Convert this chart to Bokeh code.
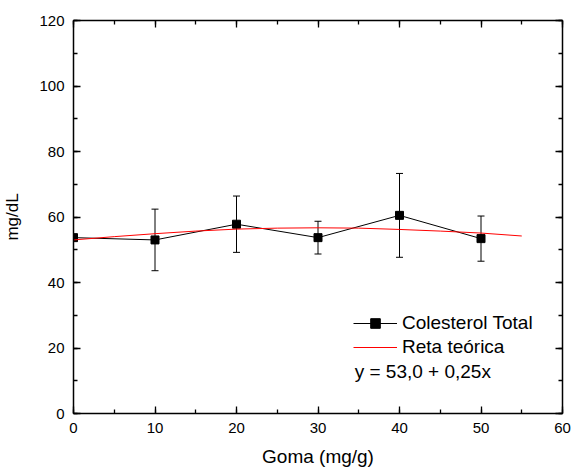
from bokeh.plotting import figure
from bokeh.models import (LinearAxis, SingleIntervalTicker, Whisker, TeeHead,
                          ColumnDataSource, Legend, LegendItem, Label, Range1d)
from bokeh.embed import file_html
from bokeh.resources import INLINE

# data
goma = [0, 10, 20, 30, 40, 50]
colesterol = [53.7, 53.0, 57.8, 53.7, 60.5, 53.4]
erro = [0.0, 9.4, 8.6, 5.0, 12.8, 6.9]

reta_x = [0, 5, 10, 15, 20, 25, 30, 35, 40, 45, 50, 55]
reta_y = [53.0, 54.0, 54.9, 55.7, 56.3, 56.6, 56.7, 56.6, 56.2, 55.7, 55.1, 54.2]

x_label = "Goma (mg/g)"
y_label = "mg/dL"
eq_text = "y = 53,0 + 0,25x"

FONT = "Liberation Sans"

src = ColumnDataSource(dict(
    x=goma, y=colesterol,
    upper=[v + e for v, e in zip(colesterol, erro)],
    lower=[v - e for v, e in zip(colesterol, erro)],
))

p = figure(frame_width=489, frame_height=393, output_backend="svg",
           toolbar_location=None, x_range=Range1d(0, 60), y_range=Range1d(0, 120),
           x_axis_label=x_label, y_axis_label=y_label,
           min_border_left=73, min_border_right=9, min_border_top=20, min_border_bottom=57)
p.xgrid.visible = False
p.ygrid.visible = False
p.outline_line_color = None
p.background_fill_color = "white"
p.border_fill_color = "white"

p.xaxis.ticker = SingleIntervalTicker(interval=10, num_minor_ticks=2)
p.yaxis.ticker = SingleIntervalTicker(interval=20, num_minor_ticks=2)

def style_axis(ax, labels=True):
    ax.axis_line_width = 1.5
    ax.axis_line_color = "black"
    ax.major_tick_in = 7
    ax.major_tick_out = 0
    ax.minor_tick_in = 4
    ax.minor_tick_out = 0
    ax.major_tick_line_width = 1.3
    ax.minor_tick_line_width = 1.3
    ax.major_tick_line_color = "black"
    ax.minor_tick_line_color = "black"
    if labels:
        ax.major_label_text_font = FONT
        ax.major_label_text_font_size = "15px"
        ax.major_label_text_color = "black"
        ax.axis_label_text_font = FONT
        ax.axis_label_text_font_style = "normal"
        ax.axis_label_text_color = "black"
    else:
        ax.major_label_text_font_size = "1px"
        ax.major_label_text_color = None
        ax.major_label_text_alpha = 0
        ax.major_label_standoff = 0

for ax in p.xaxis:
    style_axis(ax)
    ax.major_label_standoff = 9
    ax.axis_label_standoff = 10
    ax.axis_label_text_font_size = "19px"
for ax in p.yaxis:
    style_axis(ax)
    ax.major_label_standoff = 9
    ax.axis_label_standoff = 14
    ax.axis_label_text_font_size = "17px"

top = LinearAxis(ticker=SingleIntervalTicker(interval=10, num_minor_ticks=2))
style_axis(top, labels=False)
p.add_layout(top, "above")
right = LinearAxis(ticker=SingleIntervalTicker(interval=20, num_minor_ticks=2))
style_axis(right, labels=False)
p.add_layout(right, "right")

# error bars
wh = Whisker(source=src, base="x", upper="upper", lower="lower",
             line_color="black", line_width=1,
             upper_head=TeeHead(size=7, line_color="black", line_width=1),
             lower_head=TeeHead(size=7, line_color="black", line_width=1))
p.add_layout(wh)

l1 = p.line("x", "y", source=src, line_color="black", line_width=1)
s1 = p.scatter("x", "y", source=src, marker="square", size=8,
               fill_color="black", line_color="black")
r1 = p.line(reta_x, reta_y, line_color="#ff0000", line_width=1)

legend = Legend(items=[LegendItem(label="Colesterol Total", renderers=[l1, s1]),
                       LegendItem(label="Reta teórica", renderers=[r1])],
                location=(280, 54), border_line_alpha=0, background_fill_alpha=0,
                padding=0, margin=0, spacing=0, glyph_width=44, glyph_height=24,
                label_height=24, label_standoff=5,
                label_text_font=FONT, label_text_font_size="19px",
                label_text_color="black")
p.add_layout(legend)

p.add_layout(Label(x=34.5, y=12.8, text=eq_text, text_font=FONT,
                   text_font_size="19px", text_color="black",
                   text_baseline="middle", text_align="left"))

open("out.html", "w").write(file_html(p, INLINE))
